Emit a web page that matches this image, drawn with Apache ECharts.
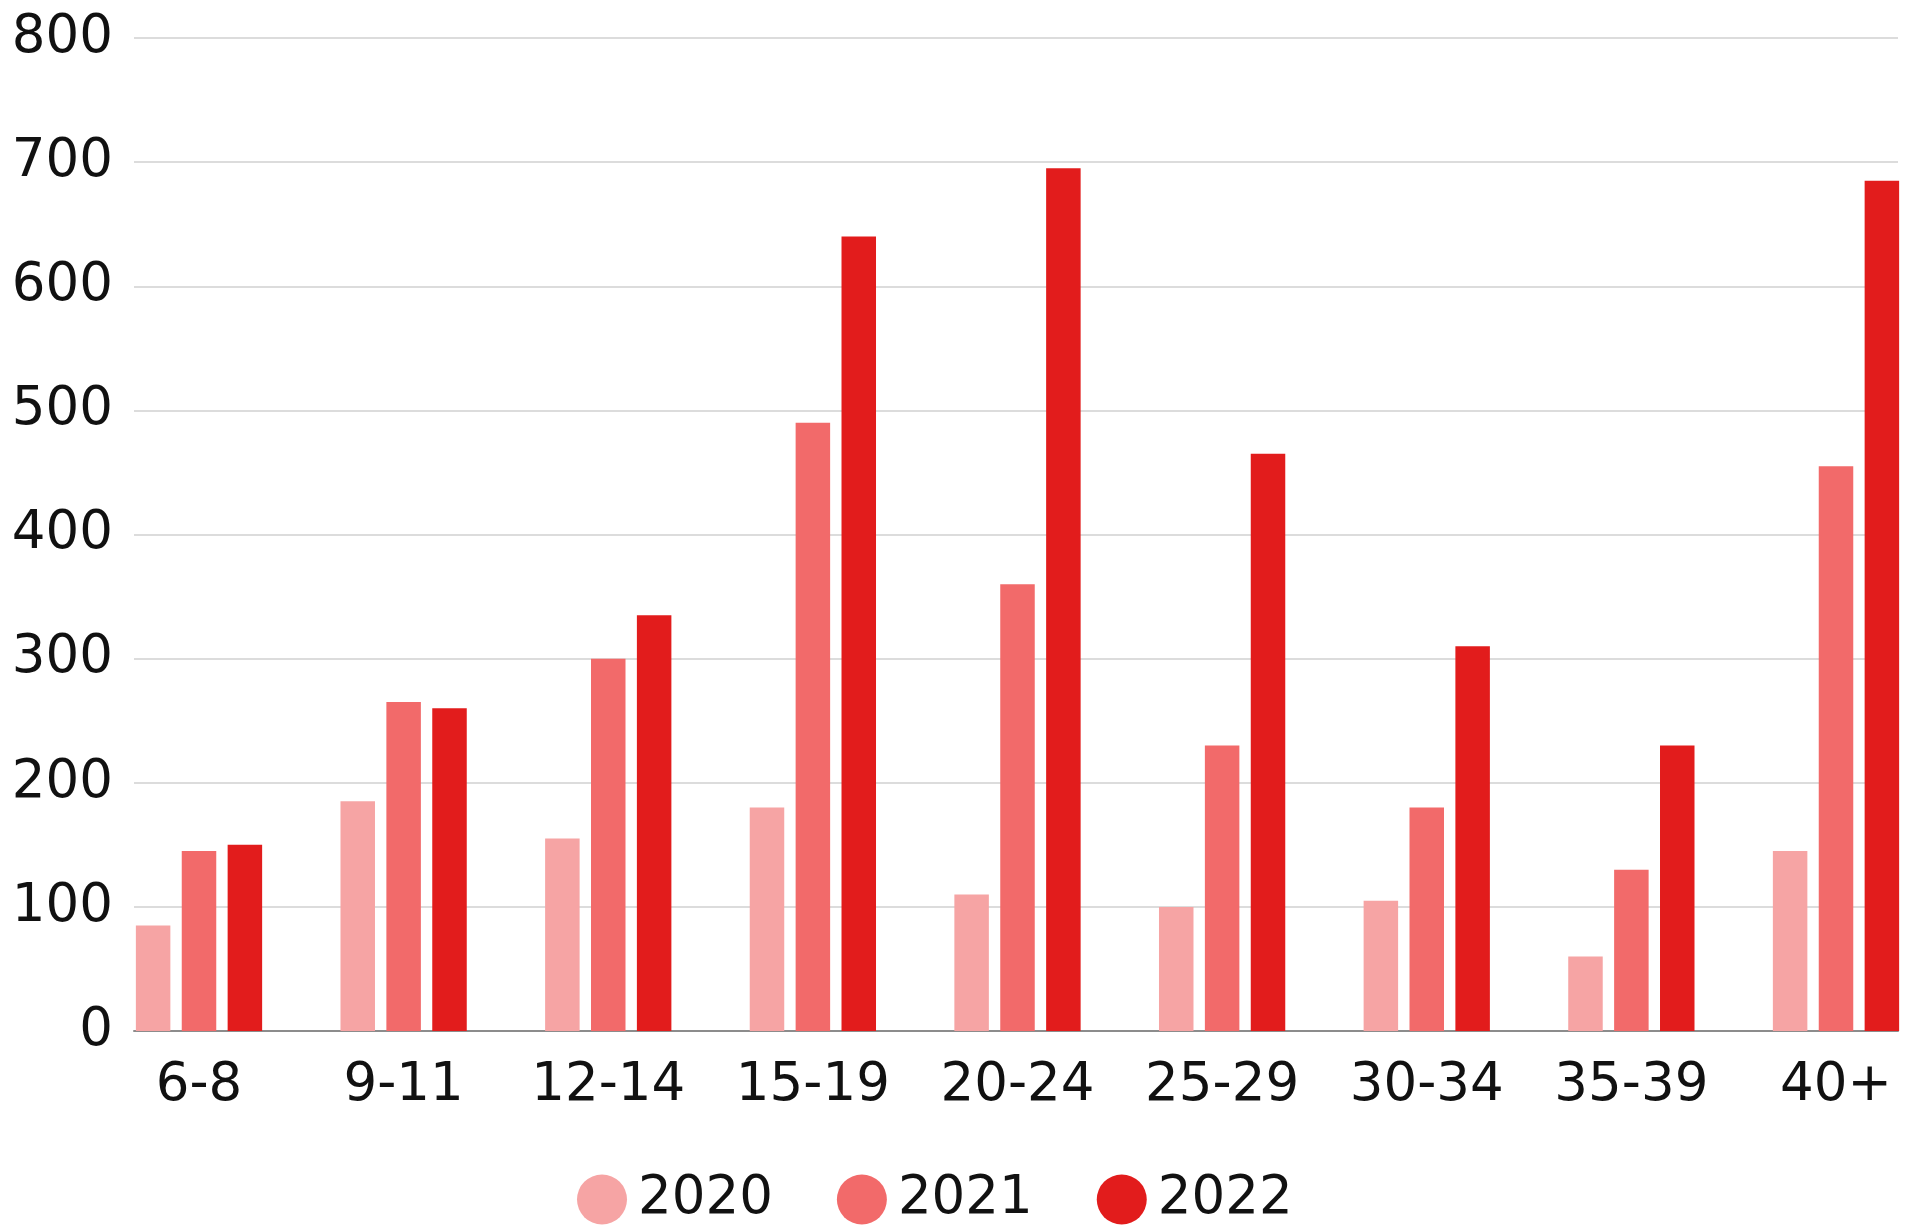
<!DOCTYPE html>
<html>
<head>
<meta charset="utf-8">
<script src="https://cdn.jsdelivr.net/npm/echarts@6/dist/echarts.min.js"></script>
<style>html,body{margin:0;padding:0;background:#fff}#c{width:1909px;height:1225px}</style>
</head>
<body>
<div id="c"></div>
<script>
const categories = ['6-8','9-11','12-14','15-19','20-24','25-29','30-34','35-39','40+'];
const seriesNames = ['2020','2021','2022'];
const v2020 = [85,185,155,180,110,100,105,60,145];
const v2021 = [145,265,300,490,360,230,180,130,455];
const v2022 = [150,260,335,640,695,465,310,230,685];
const yTicks = [0,100,200,300,400,500,600,700,800];
const colors = ['#F6A4A4','#F26A6A','#E21C1C'];

const FONT = 'DejaVu Sans';
const chart = echarts.init(document.getElementById('c'), null, {renderer:'canvas'});
const values = [v2020, v2021, v2022];
chart.setOption({
  animation:false,
  backgroundColor:'#ffffff',
  grid:[
    {left:134, right:11, top:38, bottom:194},
    {left:199, right:73, top:38, bottom:194}
  ],
  legend:{
    data:seriesNames,
    left:572, top:1168,
    icon:'circle', itemWidth:50, itemHeight:50, itemGap:64,
    textStyle:{fontFamily:FONT, fontSize:53, color:'#111', padding:[0,0,0,6]}
  },
  xAxis:[
    {gridIndex:0, type:'value', min:0, max:1,
     axisLine:{show:true, onZero:false, lineStyle:{color:'#8c8c8c', width:2}},
     axisTick:{show:false}, axisLabel:{show:false}, splitLine:{show:false}},
    {gridIndex:1, type:'category', data:categories, boundaryGap:false,
     axisLine:{show:false}, axisTick:{show:false},
     axisLabel:{fontFamily:FONT, fontSize:53, color:'#111', margin:29, interval:0}}
  ],
  yAxis:[
    {gridIndex:0, type:'value', min:yTicks[0], max:yTicks[yTicks.length-1], interval:100,
     axisLine:{show:false}, axisTick:{show:false},
     axisLabel:{fontFamily:FONT, fontSize:53, color:'#111', margin:21},
     splitLine:{show:true, lineStyle:{color:'#dcdcdc', width:2}}},
    {gridIndex:1, type:'value', min:yTicks[0], max:yTicks[yTicks.length-1], interval:100,
     show:false, splitLine:{show:false}}
  ],
  series: seriesNames.map((n,i)=>({
    name:n, type:'bar', xAxisIndex:1, yAxisIndex:1,
    data: values[i], barWidth:34.5, barGap:'33%', clip:false,
    itemStyle:{color:colors[i]}
  }))
});
</script>
</body>
</html>
